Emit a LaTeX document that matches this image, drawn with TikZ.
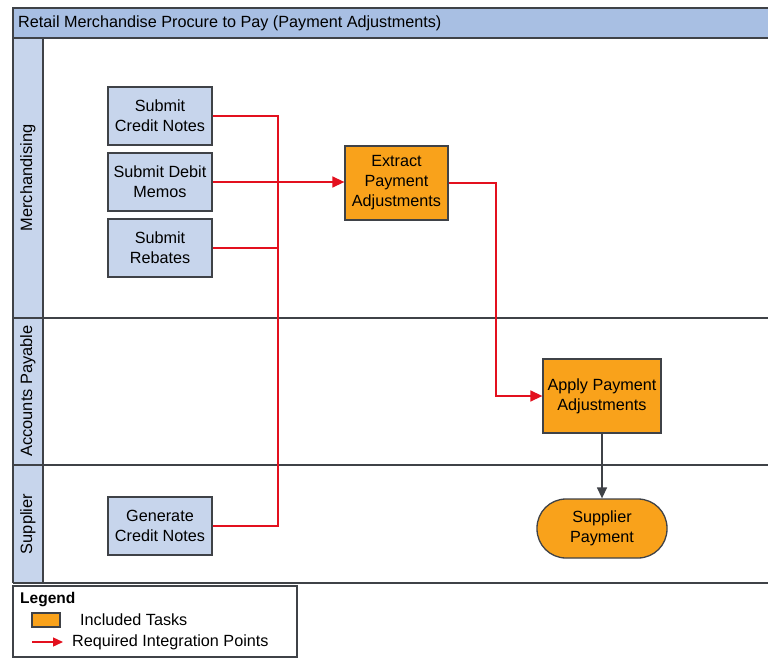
\documentclass[tikz,border=0pt]{standalone}
\usepackage{fontspec}
\setmainfont{Liberation Sans}
\usetikzlibrary{arrows.meta}
\definecolor{laneblue}{HTML}{C7D5EC}
\definecolor{titleblue}{HTML}{A8BFE3}
\definecolor{taskorange}{HTML}{F9A21B}
\definecolor{linegray}{HTML}{3F4247}
\definecolor{flowred}{HTML}{E3101E}
\tikzset{
  bluebox/.style={draw=linegray, line width=1.3pt, fill=laneblue, minimum width=104pt, minimum height=58pt, align=center, inner sep=2pt, font=\fontsize{16.2}{20}\selectfont},
  orangebox/.style={draw=linegray, line width=1.3pt, fill=taskorange, align=center, inner sep=2pt, font=\fontsize{16.2}{20}\selectfont},
  redflow/.style={draw=flowred, line width=1.4pt},
  redarrow/.style={redflow, -{Triangle[length=12pt,width=11pt]}},
  grayarrow/.style={draw=linegray, line width=1.4pt, -{Triangle[length=11pt,width=10pt]}},
  frame/.style={draw=linegray, line width=1.4pt},
  lanelabel/.style={rotate=90, font=\fontsize{16.4}{18}\selectfont},
}
\begin{document}
\begin{tikzpicture}[x=1pt,y=-1pt]
\useasboundingbox (0,0) rectangle (768,658);
\fill[white] (0,0) rectangle (768,658);
% title bar
\fill[titleblue] (13,8) rectangle (768,38);
\node[anchor=west, inner sep=0pt, font=\fontsize{16.2}{18}\selectfont] (title) at (18,23) {Retail Merchandise Procure to Pay (Payment Adjustments)};
% lane label column
\fill[laneblue] (13,38) rectangle (43,583);
\draw[frame] (768,8) -- (13,8) -- (13,583);
\draw[frame] (13,38) -- (768,38);
\draw[frame] (43,38) -- (43,583);
\draw[frame] (13,318) -- (768,318);
\draw[frame] (13,465) -- (768,465);
\draw[frame] (13,583) -- (768,583);
\node[lanelabel] (lmerch) at (28,178) {Merchandising};
\node[lanelabel] (lap) at (28,391) {Accounts Payable};
\node[lanelabel] (lsup) at (28,524) {Supplier};
% tasks
\node[bluebox] (scn) at (160,116) {Submit\\Credit Notes};
\node[bluebox] (sdm) at (160,182) {Submit Debit\\Memos};
\node[bluebox] (sr) at (160,248) {Submit\\Rebates};
\node[bluebox] (gcn) at (160,526) {Generate\\Credit Notes};
\node[orangebox, minimum width=103pt, minimum height=74pt] (epa) at (396.5,183) {Extract\\Payment\\Adjustments};
\node[orangebox, minimum width=118pt, minimum height=74pt] (apa) at (602,396) {Apply Payment\\Adjustments};
\node[orangebox, minimum width=130pt, minimum height=59pt, rounded corners=29pt] (sp) at (602,528.5) {Supplier\\Payment};
% connectors
\coordinate (jtop) at (278,116);
\coordinate (jbot) at (278,526);
\coordinate (jmid) at (278,248);
\draw[redflow] (scn.east) -- (jtop) -- (jbot) -- (gcn.east);
\draw[redflow] (sr.east) -- (jmid);
\draw[redarrow] (sdm.east) -- (sdm.east -| epa.west);
\coordinate (kx) at (496,183);
\draw[redarrow] (epa.east) -- (kx) |- (apa.west);
\draw[grayarrow] (apa.south) -- (sp.north);
% legend
\draw[draw=linegray, line width=1.2pt, fill=white] (13,586) rectangle (297,657);
\node[anchor=west, inner sep=0pt, font=\bfseries\fontsize{15.5}{17}\selectfont] (legtitle) at (20,600) {Legend};
\node[draw=linegray, line width=1.1pt, fill=taskorange, minimum width=28pt, minimum height=14pt, inner sep=0pt] (legbox) at (46,620) {};
\node[anchor=west, inner sep=0pt, font=\fontsize{16.2}{18}\selectfont] (legtask) at (80,620) {Included Tasks};
\coordinate (la) at (32,642);
\coordinate (lb) at (63,642);
\draw[redflow, -{Triangle[length=10pt,width=9pt]}] (la) -- (lb);
\node[anchor=west, inner sep=0pt, font=\fontsize{16.2}{18}\selectfont] (legint) at (72,642) {Required Integration Points};
\end{tikzpicture}
\end{document}
